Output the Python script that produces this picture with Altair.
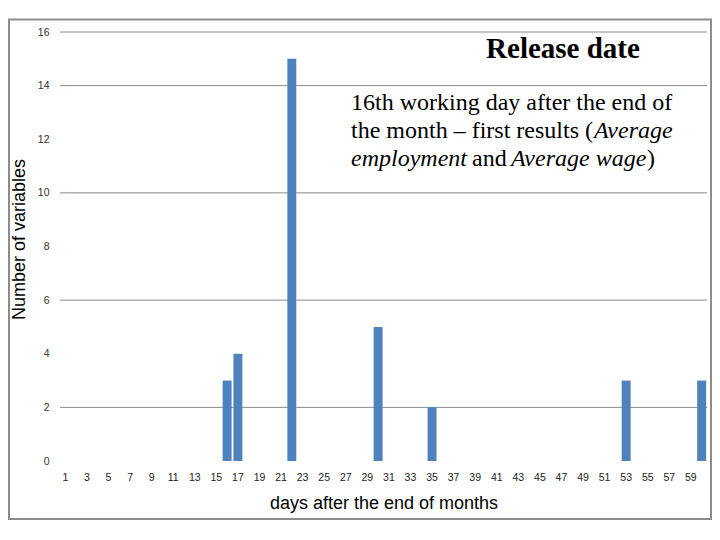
import altair as alt
import pandas as pd

# Data
days = [1, 2, 3, 4, 5, 6, 7, 8, 9, 10, 11, 12, 13, 14, 15, 16, 17, 18, 19, 20,
        21, 22, 23, 24, 25, 26, 27, 28, 29, 30, 31, 32, 33, 34, 35, 36, 37, 38, 39, 40,
        41, 42, 43, 44, 45, 46, 47, 48, 49, 50, 51, 52, 53, 54, 55, 56, 57, 58, 59, 60]
counts = [0, 0, 0, 0, 0, 0, 0, 0, 0, 0, 0, 0, 0, 0, 0, 3, 4, 0, 0, 0,
          0, 15, 0, 0, 0, 0, 0, 0, 0, 5, 0, 0, 0, 0, 2, 0, 0, 0, 0, 0,
          0, 0, 0, 0, 0, 0, 0, 0, 0, 0, 0, 0, 3, 0, 0, 0, 0, 0, 0, 3]
x_tick_labels = [1, 3, 5, 7, 9, 11, 13, 15, 17, 19, 21, 23, 25, 27, 29,
                 31, 33, 35, 37, 39, 41, 43, 45, 47, 49, 51, 53, 55, 57, 59]
y_ticks = [0, 2, 4, 6, 8, 10, 12, 14, 16]
grid_values = [2, 6, 10, 14, 16]

W, H = 647, 429

df = pd.DataFrame({"day": days, "count": counts})
grid_df = pd.DataFrame({"g": grid_values})

xenc = alt.X("day:O", sort=days,
             scale=alt.Scale(paddingInner=0.17, paddingOuter=0.08),
             axis=alt.Axis(values=x_tick_labels, labelAngle=0, domain=False, ticks=False,
                           labelFont="Liberation Sans", labelFontSize=10.5, labelColor="#222",
                           labelPadding=11, title="days after the end of months",
                           titleFont="Liberation Sans", titleFontSize=18, titleFontWeight="normal",
                           titleColor="#000", titlePadding=12))
yscale = alt.Scale(domain=[0, 16], nice=False)
yaxis = alt.Axis(values=y_ticks, grid=False, domain=False, ticks=False,
                 labelFont="Liberation Sans", labelFontSize=10.5, labelColor="#333",
                 labelPadding=11, title="Number of variables",
                 titleFont="Liberation Sans", titleFontSize=18, titleFontWeight="normal",
                 titleColor="#000", titlePadding=9, titleY=207)

grid = alt.Chart(grid_df).mark_rule(color="#8a8a8a", strokeWidth=1).encode(
    y=alt.Y("g:Q", scale=yscale, axis=yaxis)
)

bars = alt.Chart(df).mark_bar(color="#4F81BD").encode(
    x=xenc,
    y=alt.Y("count:Q", scale=yscale, axis=yaxis),
)

serif = "Liberation Serif"

def txt(s, x, y, style="normal", weight="normal", size=24, align="left"):
    return alt.Chart(pd.DataFrame({"t": [s]})).mark_text(
        font=serif, fontSize=size, fontStyle=style, fontWeight=weight,
        align=align, baseline="alphabetic", color="#000"
    ).encode(text="t:N", x=alt.value(x), y=alt.value(y))

texts = [
    txt("Release date", 503, 26, weight="bold", size=29, align="center"),
    txt("16th working day after the end of", 291, 78),
    txt("the month \u2013 first results (", 291, 106),
    txt("Average", 534, 106, style="italic"),
    txt("employment", 291, 134, style="italic"),
    txt("and", 412, 134),
    txt("Average wage", 451, 134, style="italic"),
    txt(")", 587, 134),
]

border = alt.Chart(pd.DataFrame({"a": [0]})).mark_rect(
    fillOpacity=0, stroke="#8c8c8c", strokeWidth=2
).encode(x=alt.value(-51), x2=alt.value(651), y=alt.value(-12.5), y2=alt.value(487))

chart = alt.layer(grid, bars, *texts, border).properties(
    width=W, height=H,
    background="white",
    autosize=alt.AutoSizeParams(type="none"),
    padding={"left": 52, "top": 24, "right": 5, "bottom": 75},
).configure_view(stroke="transparent", strokeWidth=0)

chart.save("out.html", embed_options={"renderer": "svg", "actions": False})
